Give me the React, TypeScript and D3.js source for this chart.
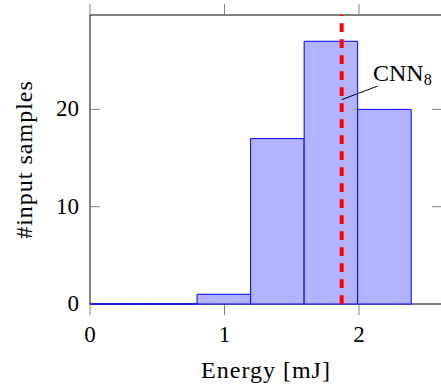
import React from "react";
import * as d3 from "d3";

const binEdges = [0, 0.398, 0.796, 1.194, 1.592, 1.99, 2.388];
const counts = [0, 0, 1, 17, 27, 20];
const xTicks = [0, 1, 2];
const yTicks = [0, 10, 20];
const markerX = 1.871;
const markerPinY = 21;
const markerLabel = "CNN";
const markerSub = "8";
const xLabel = "Energy [mJ]";
const yLabel = "#input samples";

const W = 441;
const H = 391;
const FONT = "'Liberation Serif', 'Times New Roman', serif";

export default function App() {
  const x = d3.scaleLinear().domain([0, 2.617]).range([90, 442]);
  const y = d3.scaleLinear().domain([0, 29.7]).range([304, 15]);
  const [x0, x1] = x.range();
  const [y0, y1] = y.range();

  const bars = counts.map((c, i) => {
    const a = x(binEdges[i]);
    const b = x(binEdges[i + 1]);
    const p = d3.path();
    p.moveTo(a, y(0));
    p.lineTo(a, y(c));
    p.lineTo(b, y(c));
    p.lineTo(b, y(0));
    p.closePath();
    return p.toString();
  });

  const mx = x(markerX);
  const pinX = mx;
  const pinY = y(markerPinY);

  return (
    <svg
      width={W}
      height={H}
      style={{ position: "absolute", left: 0, top: 0, background: "#fff" }}
      fontFamily={FONT}
    >
      <rect x={0} y={0} width={W} height={H} fill="#fff" />
      {/* axis frame */}
      <line x1={x0} x2={x1} y1={y1} y2={y1} stroke="#000" strokeWidth={1} />
      <line x1={x0} x2={x1} y1={y0} y2={y0} stroke="#000" strokeWidth={1} />
      <line x1={x0} x2={x0} y1={y0} y2={y1} stroke="#000" strokeWidth={1} />
      <line x1={x1} x2={x1} y1={y0} y2={y1} stroke="#000" strokeWidth={1} />
      {/* x ticks (outside, top and bottom) */}
      {xTicks.map((t) => (
        <g key={"xt" + t}>
          <line x1={x(t)} x2={x(t)} y1={y0} y2={y0 + 11} stroke="#808080" strokeWidth={1} />
          <line x1={x(t)} x2={x(t)} y1={y1} y2={y1 - 11} stroke="#808080" strokeWidth={1} />
          <text x={x(t)} y={342} fontSize={23} textAnchor="middle" fill="#000">
            {t}
          </text>
        </g>
      ))}
      {/* y ticks (inside, left and right) */}
      {yTicks.map((t) => (
        <g key={"yt" + t}>
          <line x1={x0} x2={x0 + 10} y1={y(t)} y2={y(t)} stroke="#808080" strokeWidth={1} />
          <line x1={x1} x2={x1 - 10} y1={y(t)} y2={y(t)} stroke="#808080" strokeWidth={1} />
          <text x={79} y={y(t) + 7} fontSize={23} textAnchor="end" fill="#000">
            {t}
          </text>
        </g>
      ))}
      {/* bars */}
      {bars.map((d, i) => (
        <path key={"b" + i} d={d} fill="#b3b3ff" stroke="#0000ff" strokeWidth={1} />
      ))}
      {/* marker line */}
      <line
        x1={mx}
        x2={mx}
        y1={y(0)}
        y2={y1}
        stroke="#ff0000"
        strokeWidth={4}
        strokeDasharray="8.7 7.3"
      />
      {/* pin */}
      <line x1={pinX} y1={pinY} x2={pinX + 36} y2={pinY - 13.6} stroke="#000" strokeWidth={1} />
      <text x={373} y={80.7} fontSize={24} fill="#000">
        {markerLabel}
        <tspan fontSize={16} dy={4.3}>
          {markerSub}
        </tspan>
      </text>
      {/* axis labels */}
      <text
        x={(x0 + x1) / 2}
        y={378.3}
        fontSize={24}
        letterSpacing={1}
        textAnchor="middle"
        fill="#000"
      >
        {xLabel}
      </text>
      <text
        transform={`translate(32, ${(y0 + y1) / 2}) rotate(-90)`}
        fontSize={24}
        letterSpacing={1}
        textAnchor="middle"
        fill="#000"
      >
        {yLabel}
      </text>
    </svg>
  );
}
